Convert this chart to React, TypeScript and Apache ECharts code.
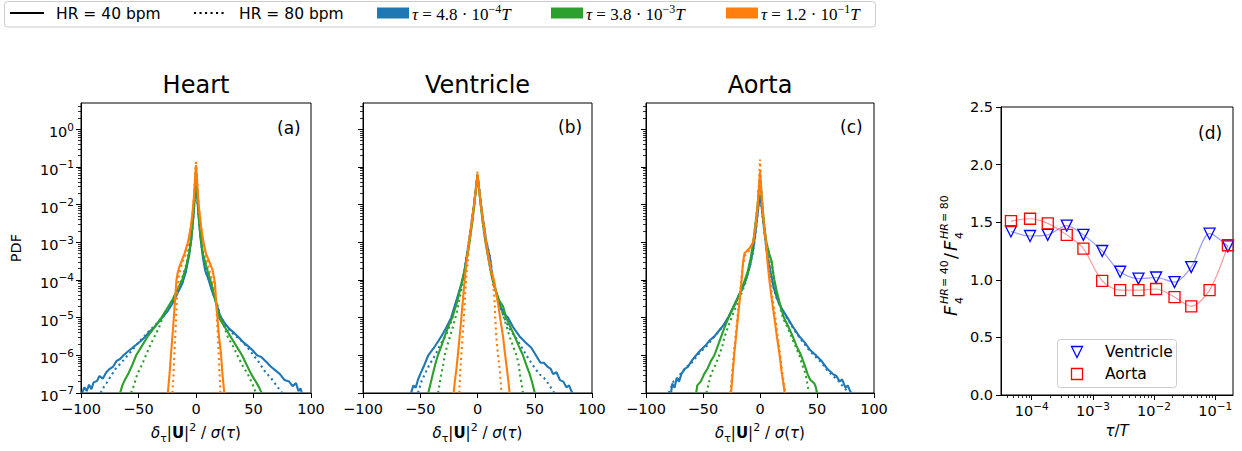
import React, { useEffect, useRef } from 'react';
import * as echarts from 'echarts';

// ---------------- texts ----------------
const panelTitles = ['Heart', 'Ventricle', 'Aorta'];
const panelTags = ['(a)', '(b)', '(c)', '(d)'];
const hrLabels = ['HR = 40 bpm', 'HR = 80 bpm'];
const tauMantissa = ['4.8', '3.8', '1.2'];
const tauExponent = ['\u22124', '\u22123', '\u22121'];
const ratioNames = ['Ventricle', 'Aorta'];

// ---------------- tick values ----------------
const pdfMajorTicks = [1e-7, 1e-6, 1e-5, 1e-4, 1e-3, 1e-2, 1e-1, 1];
const tauMajorTicks = [1e-4, 1e-3, 1e-2, 1e-1];

// ---------------- PDF curves: [x, log10(PDF)] ----------------
// Heart
const heartB40 = [[-99,-7.0],[-97,-6.85],[-95,-6.95],[-93,-6.78],[-91,-6.9],[-89,-6.72],[-86,-6.68],[-84,-6.55],[-81,-6.62],[-78,-6.45],[-75,-6.36],[-72,-6.3],[-69,-6.15],[-66,-6.1],[-63,-6.0],[-60,-5.92],[-56,-5.82],[-52,-5.72],[-48,-5.62],[-44,-5.5],[-40,-5.36],[-36,-5.25],[-32,-5.1],[-28,-4.95],[-24,-4.8],[-20,-4.6],[-16,-4.35],[-12,-4.1],[-9,-3.8],[-6,-3.35],[-4,-2.9],[-2.5,-2.4],[-1.5,-2.0],[-0.7,-1.6],[0,-1.25],[0.7,-1.6],[1.5,-2.0],[2.5,-2.4],[4,-2.9],[6,-3.4],[8,-3.75],[11,-4.0],[14,-4.3],[17,-4.55],[21,-4.95],[25,-5.15],[29,-5.3],[33,-5.4],[37,-5.52],[41,-5.65],[45,-5.75],[49,-5.86],[53,-6.0],[57,-6.05],[61,-6.17],[65,-6.3],[69,-6.4],[73,-6.5],[77,-6.66],[81,-6.7],[84,-6.82],[87,-6.74],[89,-6.95],[91,-6.88],[92,-7.0]];
const heartB80 = [[-83,-7.0],[-81,-6.88],[-78,-6.75],[-74,-6.55],[-70,-6.36],[-65,-6.2],[-60,-6.02],[-55,-5.85],[-50,-5.66],[-45,-5.5],[-40,-5.33],[-36,-5.22],[-32,-5.08],[-28,-4.94],[-24,-4.78],[-20,-4.58],[-16,-4.34],[-12,-4.08],[-9,-3.78],[-6,-3.33],[-4,-2.88],[-2.5,-2.38],[-1.5,-1.98],[-0.7,-1.58],[0,-1.2],[0.7,-1.58],[1.5,-1.98],[2.5,-2.38],[4,-2.88],[6,-3.38],[8,-3.72],[11,-3.98],[14,-4.28],[17,-4.55],[21,-4.95],[25,-5.17],[29,-5.33],[33,-5.45],[37,-5.55],[41,-5.66],[45,-5.8],[50,-6.0],[55,-6.2],[60,-6.43],[65,-6.6],[70,-6.8],[73,-6.93],[75,-7.0]];
const heartG40 = [[-66,-7.0],[-64,-6.8],[-62,-6.66],[-59,-6.5],[-56,-6.3],[-52,-6.0],[-47,-5.75],[-42,-5.5],[-36,-5.25],[-30,-5.0],[-25,-4.75],[-20,-4.5],[-16,-4.25],[-12,-4.0],[-9,-3.7],[-6,-3.3],[-4,-2.85],[-2.5,-2.35],[-1.5,-1.9],[-0.7,-1.45],[0,-1.1],[0.7,-1.45],[1.5,-1.9],[2.5,-2.35],[4,-2.85],[6,-3.3],[9,-3.65],[12,-3.95],[15,-4.3],[18,-4.7],[20,-5.0],[25,-5.25],[30,-5.5],[35,-5.75],[40,-6.0],[44,-6.25],[48,-6.5],[52,-6.7],[55,-6.86],[57,-7.0]];
const heartG80 = [[-56.5,-7.0],[-54,-6.8],[-51,-6.5],[-47,-6.25],[-43.5,-6.0],[-40,-5.75],[-36,-5.5],[-32,-5.25],[-29,-5.0],[-24,-4.75],[-20,-4.5],[-16,-4.25],[-12,-3.95],[-9,-3.65],[-6,-3.25],[-4,-2.8],[-2.5,-2.3],[-1.5,-1.85],[-0.7,-1.4],[0,-1.05],[0.7,-1.4],[1.5,-1.85],[2.5,-2.3],[4,-2.8],[6,-3.25],[9,-3.6],[12,-3.9],[15,-4.25],[18,-4.6],[21,-4.95],[24,-5.2],[27.5,-5.5],[32,-5.75],[36,-6.0],[40,-6.25],[45,-6.5],[49,-6.75],[52,-7.0]];
const heartO40 = [[-24.5,-7.0],[-23,-6.5],[-21.7,-5.95],[-20.5,-5.5],[-19.4,-5.05],[-18,-4.45],[-17,-4.0],[-16,-3.83],[-14.5,-3.65],[-10,-3.3],[-7,-3.0],[-4.5,-2.6],[-3,-2.2],[-1.8,-1.8],[-0.8,-1.3],[0,-0.95],[0.8,-1.3],[1.8,-1.8],[3,-2.2],[4.5,-2.6],[6.5,-3.0],[8.7,-3.3],[12,-3.55],[14.5,-3.74],[16.5,-4.09],[17.4,-4.53],[18.8,-5.06],[20,-5.5],[21.7,-5.95],[23,-6.5],[24.6,-7.0]];
const heartO80 = [[-20.5,-7.0],[-19.5,-6.5],[-18.8,-5.95],[-18,-5.5],[-17.4,-5.06],[-16.5,-4.44],[-15,-3.9],[-12,-3.55],[-8,-3.25],[-5.5,-2.85],[-3.5,-2.4],[-2,-1.9],[-1,-1.4],[0,-0.82],[1,-1.4],[2,-1.9],[3.5,-2.4],[5.5,-2.85],[8,-3.25],[11.6,-3.74],[15,-4.1],[17.4,-4.44],[18.3,-5.06],[19,-5.5],[19.7,-5.95],[20.5,-6.5],[21.2,-7.0]];
// Ventricle
const ventB40 = [[-58,-7.0],[-56,-6.8],[-54,-6.86],[-52,-6.65],[-50,-6.5],[-47,-6.3],[-43,-6.0],[-38,-5.8],[-35,-5.66],[-31.6,-5.5],[-27,-5.25],[-23,-5.0],[-20,-4.7],[-17,-4.4],[-14,-4.1],[-11.5,-3.8],[-9.6,-3.4],[-7.5,-3.0],[-5,-2.45],[-3,-2.0],[-1.5,-1.6],[0,-1.25],[1.5,-1.6],[3,-2.0],[5,-2.45],[7.5,-2.95],[10.8,-3.4],[13,-3.9],[16,-4.3],[20,-4.7],[23,-4.9],[26.6,-5.0],[31,-5.25],[36.8,-5.5],[42,-5.66],[47,-5.8],[51,-6.0],[55,-6.2],[58,-6.2],[61,-6.3],[64,-6.36],[66,-6.5],[69,-6.45],[72,-6.66],[75,-6.7],[77.6,-6.85],[80,-6.8],[82,-6.95],[83,-7.0]];
const ventB80 = [[-52,-7.0],[-49,-6.7],[-46,-6.5],[-42,-6.25],[-37,-6.0],[-33,-5.75],[-28,-5.5],[-24,-5.2],[-21,-4.9],[-17.5,-4.5],[-14,-4.1],[-11.5,-3.78],[-9.6,-3.38],[-7.5,-2.98],[-5,-2.43],[-3,-1.98],[-1.5,-1.58],[0,-1.22],[1.5,-1.58],[3,-1.98],[5,-2.43],[7.5,-2.93],[10.8,-3.38],[13,-3.85],[16,-4.3],[20,-4.75],[24,-5.05],[28,-5.3],[35,-5.6],[42.7,-6.0],[48,-6.25],[54,-6.5],[58,-6.6],[62,-6.76],[65,-6.9],[67,-7.0]];
const ventG40 = [[-43,-7.0],[-41,-6.75],[-39,-6.5],[-37,-6.25],[-34.6,-6.0],[-31.5,-5.75],[-28.7,-5.5],[-25,-5.2],[-22,-5.0],[-18,-4.6],[-14,-4.1],[-11,-3.7],[-8.5,-3.3],[-6.5,-2.9],[-4.5,-2.45],[-2.8,-2.0],[-1.4,-1.6],[0,-1.2],[1.4,-1.6],[2.8,-2.0],[4.5,-2.45],[6.5,-2.9],[9,-3.35],[12,-3.85],[15,-4.2],[19,-4.55],[22.3,-4.7],[25,-5.0],[28.7,-5.25],[32.5,-5.5],[36,-5.75],[39.7,-6.0],[42.5,-6.25],[45.6,-6.5],[48,-6.75],[50,-7.0]];
const ventG80 = [[-34.5,-7.0],[-33,-6.75],[-31.6,-6.5],[-30,-6.25],[-28.7,-6.0],[-26.5,-5.75],[-24,-5.5],[-21,-5.2],[-18,-4.85],[-15,-4.4],[-12,-3.95],[-9.5,-3.45],[-7,-2.95],[-4.5,-2.43],[-2.8,-1.98],[-1.4,-1.58],[0,-1.18],[1.4,-1.58],[2.8,-1.98],[4.5,-2.43],[7,-2.95],[9.5,-3.4],[12,-3.8],[15,-4.2],[19,-4.6],[23,-5.0],[26,-5.3],[28,-5.5],[31,-5.75],[34,-6.0],[36,-6.25],[37,-6.5],[38.5,-6.75],[39.7,-7.0]];
const ventO40 = [[-20.8,-7.0],[-19.8,-6.7],[-18.5,-6.39],[-17,-5.95],[-15.6,-5.5],[-14.2,-5.05],[-13,-4.62],[-11.2,-4.0],[-9.5,-3.5],[-7.5,-3.0],[-5,-2.45],[-3,-2.0],[-1.5,-1.6],[0,-1.2],[1.5,-1.6],[3,-2.0],[5,-2.45],[7.5,-3.0],[10,-3.45],[12,-3.75],[14.4,-4.0],[16,-4.3],[17.9,-4.62],[20,-5.05],[22.3,-5.5],[24,-5.95],[25.8,-6.39],[27,-6.7],[28,-7.0]];
const ventO80 = [[-16,-7.0],[-15.5,-6.7],[-15,-6.39],[-14,-5.95],[-13,-5.5],[-12,-5.05],[-11.2,-4.62],[-10,-4.0],[-8.5,-3.5],[-7,-3.0],[-4.7,-2.45],[-2.8,-2.0],[-1.3,-1.6],[0,-1.12],[1.3,-1.6],[2.8,-2.0],[4.7,-2.45],[7,-3.0],[9.5,-3.45],[12,-3.85],[14,-4.25],[15,-4.62],[15.6,-5.05],[16.4,-5.5],[17.8,-5.95],[19.4,-6.39],[20.2,-6.7],[21,-7.0]];
// Aorta
const aortB40 = [[-78,-7.0],[-77,-6.75],[-75,-6.86],[-73,-6.6],[-71,-6.7],[-69,-6.5],[-66,-6.36],[-63,-6.3],[-60,-6.15],[-56,-6.0],[-52,-5.86],[-48,-5.75],[-44,-5.6],[-40,-5.5],[-36,-5.35],[-32,-5.2],[-28,-5.0],[-24,-4.75],[-20,-4.5],[-16,-4.25],[-12,-3.95],[-9,-3.65],[-6,-3.2],[-4,-2.75],[-2.5,-2.35],[-1.2,-2.0],[0,-1.75],[1.2,-2.0],[2.5,-2.35],[4,-2.75],[6,-3.25],[9,-3.75],[12,-4.2],[15,-4.5],[19,-4.75],[24,-5.0],[29,-5.25],[34.5,-5.5],[39,-5.65],[44,-5.86],[49,-6.0],[54,-6.15],[59,-6.36],[64,-6.5],[67,-6.55],[70,-6.7],[72,-6.64],[75,-6.86],[77,-6.8],[79,-6.95],[80,-7.0]];
const aortB80 = [[-80,-7.0],[-78,-6.86],[-76,-6.7],[-73,-6.66],[-70,-6.5],[-67,-6.4],[-64,-6.3],[-60,-6.2],[-56,-6.05],[-52,-5.9],[-48,-5.8],[-44,-5.65],[-40,-5.5],[-36,-5.36],[-32,-5.2],[-28,-5.02],[-24,-4.78],[-20,-4.52],[-16,-4.27],[-12,-3.97],[-9,-3.66],[-6,-3.22],[-4,-2.77],[-2.5,-2.37],[-1.2,-2.0],[0,-1.8],[1.2,-2.0],[2.5,-2.37],[4,-2.77],[6,-3.27],[9,-3.77],[12,-4.22],[15,-4.52],[19,-4.78],[24,-5.03],[29,-5.28],[34.5,-5.52],[39,-5.7],[44,-5.9],[49,-6.05],[54,-6.2],[59,-6.4],[64,-6.55],[68,-6.65],[72,-6.8],[75,-6.9],[78,-7.0]];
const aortG40 = [[-56,-7.0],[-55,-6.8],[-52,-6.7],[-49,-6.5],[-46,-6.35],[-43,-6.15],[-40,-6.0],[-37,-5.75],[-34,-5.5],[-31,-5.25],[-27.5,-5.0],[-23,-4.7],[-19,-4.45],[-15,-4.15],[-11,-3.8],[-8,-3.4],[-5.5,-2.9],[-3.5,-2.4],[-2,-2.0],[-1,-1.6],[0,-1.3],[1,-1.6],[2,-2.0],[3.5,-2.5],[5.5,-3.0],[8,-3.3],[10.2,-3.5],[11.5,-3.8],[12.6,-4.0],[15,-4.35],[18,-4.7],[21,-5.0],[25,-5.25],[28.7,-5.5],[32,-5.75],[36,-6.0],[39,-6.25],[41.8,-6.5],[44,-6.65],[47.7,-6.75],[49,-6.85],[50,-7.0]];
const aortG80 = [[-47,-7.0],[-45,-6.75],[-43,-6.5],[-39,-6.25],[-35.7,-6.0],[-33,-5.75],[-31,-5.5],[-28,-5.25],[-25,-5.0],[-21,-4.7],[-17,-4.42],[-13,-4.1],[-10,-3.75],[-7.5,-3.35],[-5.5,-2.9],[-3.5,-2.4],[-2,-2.0],[-1,-1.6],[0,-1.35],[1,-1.6],[2,-2.0],[3.5,-2.5],[5.5,-3.0],[8,-3.3],[10.2,-3.55],[12,-3.9],[14,-4.25],[17,-4.65],[20,-5.0],[24,-5.25],[27.5,-5.5],[31,-5.75],[34.5,-6.0],[37,-6.25],[40,-6.5],[41.5,-6.75],[43,-7.0]];
const aortO40 = [[-25.4,-7.0],[-24,-6.5],[-22.5,-5.95],[-21,-5.5],[-19.6,-5.06],[-18,-4.6],[-16.7,-4.18],[-15.5,-3.8],[-15,-3.56],[-13.7,-3.3],[-9,-3.15],[-6,-3.0],[-4,-2.6],[-2.5,-2.2],[-1.2,-1.7],[0,-1.12],[1.2,-1.7],[2.5,-2.2],[4,-2.7],[5.3,-3.0],[6.5,-3.5],[8.2,-4.0],[10.3,-4.5],[12.6,-5.0],[14.8,-5.5],[17,-5.95],[19,-6.45],[20.5,-6.75],[21.6,-7.0]];
const aortO80 = [[-26,-7.0],[-24.5,-6.5],[-23,-5.95],[-21.5,-5.5],[-20,-5.06],[-18.5,-4.6],[-17,-4.18],[-15.5,-3.7],[-13,-3.35],[-9,-3.2],[-6,-3.0],[-4,-2.6],[-2.5,-2.2],[-1.2,-1.6],[0,-0.8],[1.2,-1.6],[2.5,-2.2],[4,-2.7],[5.6,-3.0],[7,-3.5],[9,-4.0],[11,-4.5],[13.5,-5.0],[15.5,-5.5],[17.5,-5.95],[19.5,-6.45],[21,-6.75],[22.3,-7.0]];

// ---------------- flatness ratio (panel d) ----------------
const tauOverT = [4.58e-5, 9.4e-5, 1.83e-4, 3.74e-4, 7.0e-4, 1.42e-3, 2.79e-3, 5.56e-3, 1.08e-2, 2.16e-2, 4.05e-2, 8.07e-2, 1.61e-1];
const ventricleRatio = [1.42, 1.38, 1.39, 1.47, 1.39, 1.25, 1.07, 1.01, 1.02, 0.98, 1.11, 1.40, 1.29];
const aortaRatio = [1.51, 1.53, 1.49, 1.39, 1.27, 0.99, 0.91, 0.91, 0.92, 0.85, 0.77, 0.91, 1.30];

const COLORS = ['#1f77b4', '#2ca02c', '#ff7f0e'];
const FONT = 'DejaVu Sans';
const SERIF = 'Liberation Serif';

const panels = [
  [[heartB40, heartB80], [heartG40, heartG80], [heartO40, heartO80]],
  [[ventB40, ventB80], [ventG40, ventG80], [ventO40, ventO80]],
  [[aortB40, aortB80], [aortG40, aortG80], [aortO40, aortO80]],
];

const pdfGrids = [
  { left: 81, width: 230 },
  { left: 363, width: 229 },
  { left: 646, width: 228 },
];

const PDF_MIN = 0.995e-7;
const PDF_MAX = 5;
const TAU_MIN = 3.15e-5;
const TAU_MAX = 0.195;

function minorLogTicks(lo: number, hi: number): number[] {
  const out: number[] = [];
  for (let e = -8; e <= 1; e++) {
    for (let k = 2; k <= 9; k++) {
      const v = k * Math.pow(10, e);
      if (v > lo && v < hi) out.push(v);
    }
  }
  return out;
}

const supMinus = (e: number) => (e < 0 ? '\u2212' + -e : String(e));
const powLabel = (v: number) => `{b|10}{s|${supMinus(Math.round(Math.log10(v)))}}`;
const powRich = {
  b: { fontSize: 14.5, fontFamily: FONT, color: '#000', lineHeight: 16, padding: [6, 0, 0, 0] },
  s: { fontSize: 10.5, fontFamily: FONT, color: '#000', lineHeight: 14, verticalAlign: 'top' },
};

const xNameRich = {
  i: { fontSize: 15, fontFamily: FONT, fontStyle: 'italic', color: '#000', lineHeight: 22 },
  n: { fontSize: 15, fontFamily: FONT, color: '#000', lineHeight: 22 },
  bd: { fontSize: 15, fontFamily: FONT, fontWeight: 'bold', color: '#000', lineHeight: 22 },
  sub: { fontSize: 11, fontFamily: FONT, color: '#000', lineHeight: 12, verticalAlign: 'bottom' },
  sup: { fontSize: 11, fontFamily: FONT, color: '#000', lineHeight: 12, verticalAlign: 'top' },
};
const xNameText = '{i|δ}{sub|τ}{n||}{bd|U}{n||}{sup|2}{n| / }{i|σ}{n|(}{i|τ}{n|)}';

function buildOption() {
  const grid: any[] = [];
  const xAxis: any[] = [];
  const yAxis: any[] = [];
  const series: any[] = [];
  const pdfMinor = minorLogTicks(PDF_MIN, PDF_MAX);
  const tauMinor = minorLogTicks(TAU_MIN, TAU_MAX);

  pdfGrids.forEach((g, i) => {
    grid.push({ left: g.left, width: g.width, top: 103, height: 290, show: true, borderColor: '#000', borderWidth: 1, backgroundColor: 'transparent' });
    xAxis.push({
      type: 'value', gridIndex: i, min: -100, max: 100, interval: 50,
      axisLine: { show: true, onZero: false, lineStyle: { color: '#000', width: 1 } },
      axisTick: { show: true, length: 5, lineStyle: { color: '#000', width: 1 } },
      axisLabel: { color: '#000', fontSize: 14.5, fontFamily: FONT, margin: 8, formatter: (v: number) => (v < 0 ? '\u2212' + Math.abs(v) : String(v)) },
      splitLine: { show: false },
      name: xNameText, nameLocation: 'middle', nameGap: 29,
      nameTextStyle: { rich: xNameRich },
    });
    yAxis.push({
      type: 'log', logBase: 10, gridIndex: i, min: PDF_MIN, max: PDF_MAX, position: 'left',
      axisLine: { show: true, onZero: false, lineStyle: { color: '#000', width: 1 } },
      axisTick: { show: true, length: 5, lineStyle: { color: '#000', width: 1 }, customValues: pdfMajorTicks },
      axisLabel: { show: i === 0, customValues: pdfMajorTicks, formatter: powLabel, rich: powRich, margin: 7 },
      splitLine: { show: false }, minorTick: { show: false },
      name: i === 0 ? 'PDF' : '', nameLocation: 'middle', nameGap: 58,
      nameTextStyle: { fontSize: 14.5, fontFamily: FONT, color: '#000' },
    });
    yAxis.push({
      type: 'log', logBase: 10, gridIndex: i, min: PDF_MIN, max: PDF_MAX, position: 'left',
      axisLine: { show: false, onZero: false },
      axisTick: { show: true, length: 3, lineStyle: { color: '#000', width: 0.8 }, customValues: pdfMinor },
      axisLabel: { show: false }, splitLine: { show: false },
    });
    panels[i].forEach((pair, c) => {
      pair.forEach((curve, d) => {
        series.push({
          type: 'line', xAxisIndex: i, yAxisIndex: i * 2, silent: true,
          showSymbol: false, symbol: 'none', clip: true,
          lineStyle: { color: COLORS[c], width: 2.1, type: d === 0 ? 'solid' : [2.1, 3.4] },
          data: curve.map(([x, e]) => [x, Math.pow(10, e)]),
          z: 2 + c,
        });
      });
    });
  });

  // panel d
  grid.push({ left: 1001, width: 232, top: 107, height: 288, show: true, borderColor: '#000', borderWidth: 1, backgroundColor: 'transparent' });
  xAxis.push({
    type: 'log', logBase: 10, gridIndex: 3, min: TAU_MIN, max: TAU_MAX, position: 'bottom',
    axisLine: { show: true, onZero: false, lineStyle: { color: '#000', width: 1 } },
    axisTick: { show: true, length: 5, lineStyle: { color: '#000', width: 1 }, customValues: tauMajorTicks },
    axisLabel: { customValues: tauMajorTicks, formatter: powLabel, rich: powRich, margin: 5 },
    splitLine: { show: false }, minorTick: { show: false },
    name: '{i|τ}{n|/}{i|T}', nameLocation: 'middle', nameGap: 22,
    nameTextStyle: { rich: xNameRich },
  });
  xAxis.push({
    type: 'log', logBase: 10, gridIndex: 3, min: TAU_MIN, max: TAU_MAX, position: 'bottom',
    axisLine: { show: false, onZero: false },
    axisTick: { show: true, length: 3, lineStyle: { color: '#000', width: 0.8 }, customValues: tauMinor },
    axisLabel: { show: false }, splitLine: { show: false },
  });
  yAxis.push({
    type: 'value', gridIndex: 3, min: 0, max: 2.5, interval: 0.5, position: 'left',
    axisLine: { show: true, onZero: false, lineStyle: { color: '#000', width: 1 } },
    axisTick: { show: true, length: 5, lineStyle: { color: '#000', width: 1 } },
    axisLabel: { color: '#000', fontSize: 14.5, fontFamily: FONT, margin: 8, formatter: (v: number) => v.toFixed(1) },
    splitLine: { show: false },
  });
  const dY = yAxis.length - 1;
  series.push({
    name: ratioNames[0], type: 'line', xAxisIndex: 3, yAxisIndex: dY, silent: true, smooth: 0.3,
    symbol: 'triangle', symbolRotate: 180, symbolSize: 11, showSymbol: true,
    itemStyle: { color: 'rgba(0,0,0,0)', borderColor: '#0000ff', borderWidth: 1.3 },
    lineStyle: { color: 'rgba(0,0,255,0.4)', width: 1.2 },
    data: tauOverT.map((t, k) => [t, ventricleRatio[k]]),
  });
  series.push({
    name: ratioNames[1], type: 'line', xAxisIndex: 3, yAxisIndex: dY, silent: true, smooth: 0.3,
    symbol: 'rect', symbolSize: 11, showSymbol: true,
    itemStyle: { color: 'rgba(0,0,0,0)', borderColor: '#ff0000', borderWidth: 1.3 },
    lineStyle: { color: 'rgba(255,0,0,0.4)', width: 1.2 },
    data: tauOverT.map((t, k) => [t, aortaRatio[k]]),
  });

  // ---------------- graphics ----------------
  const g: any[] = [];
  const txt = (x: number, y: number, text: string, size: number, align = 'left', extra: any = {}) => ({
    type: 'text', x, y, silent: true,
    style: { text, font: `${size}px "${FONT}"`, fill: '#000', align, verticalAlign: 'middle', ...extra },
  });
  // top legend
  g.push({ type: 'rect', silent: true, shape: { x: 4.5, y: 1.5, width: 871, height: 25.5, r: 3 }, style: { fill: '#fff', stroke: '#cccccc', lineWidth: 1 } });
  g.push({ type: 'line', silent: true, shape: { x1: 10, y1: 13, x2: 44, y2: 13 }, style: { stroke: '#000', lineWidth: 2 } });
  g.push(txt(56, 14, hrLabels[0], 15.5));
  g.push({ type: 'line', silent: true, shape: { x1: 194, y1: 13, x2: 224, y2: 13 }, style: { stroke: '#000', lineWidth: 2, lineDash: [2.1, 3.4] } });
  g.push(txt(239, 14, hrLabels[1], 15.5));
  const patchX = [377, 551, 726];
  const tauRich = {
    i: { fontFamily: SERIF, fontSize: 17, fontStyle: 'italic', fill: '#000', lineHeight: 22 },
    n: { fontFamily: SERIF, fontSize: 17, fill: '#000', lineHeight: 22 },
    s: { fontFamily: SERIF, fontSize: 12, fill: '#000', lineHeight: 13, verticalAlign: 'top' },
  };
  patchX.forEach((px, c) => {
    g.push({ type: 'rect', silent: true, shape: { x: px, y: 7.5, width: 32, height: 11 }, style: { fill: COLORS[c] } });
    g.push({
      type: 'text', x: px + 35, y: 14, silent: true,
      style: { text: `{i|τ}{n| = ${tauMantissa[c]} · 10}{s|${tauExponent[c]}}{i|T}`, rich: tauRich, align: 'left', verticalAlign: 'middle' },
    });
  });
  // titles and panel tags
  const centers = [196, 477.5, 760];
  panelTitles.forEach((t, i) => g.push(txt(centers[i], 85, t, 24, 'center')));
  const tagPos = [[277, 128], [558, 127], [840, 127], [1198, 133]];
  panelTags.forEach((t, i) => g.push(txt(tagPos[i][0], tagPos[i][1], t, 17)));
  // panel d legend
  g.push({ type: 'rect', silent: true, shape: { x: 1057.5, y: 339.5, width: 119, height: 48, r: 3 }, style: { fill: '#fff', stroke: '#cccccc', lineWidth: 1 }, z: 10 });
  g.push({ type: 'polygon', silent: true, shape: { points: [[1071.5, 346.5], [1082.5, 346.5], [1077, 357.5]] }, style: { fill: 'none', stroke: '#0000ff', lineWidth: 1.3 }, z: 11 });
  g.push({ type: 'rect', silent: true, shape: { x: 1071.5, y: 368.5, width: 11, height: 11 }, style: { fill: 'none', stroke: '#ff0000', lineWidth: 1.3 }, z: 11 });
  g.push({ ...txt(1105, 352, ratioNames[0], 15.5), z: 11 });
  g.push({ ...txt(1105, 374, ratioNames[1], 15.5), z: 11 });
  // panel d y label (rotated, stacked sub/superscripts)
  const it = (x: number, y: number, text: string, size: number) => ({
    type: 'text', x, y, silent: true,
    style: { text, font: `italic ${size}px "${FONT}"`, fill: '#000', align: 'left', verticalAlign: 'middle' },
  });
  const up = (x: number, y: number, text: string, size: number) => ({
    type: 'text', x, y, silent: true,
    style: { text, font: `${size}px "${FONT}"`, fill: '#000', align: 'left', verticalAlign: 'middle' },
  });
  g.push({
    type: 'group', x: 950, y: 252, rotation: Math.PI / 2, silent: true,
    children: [
      it(-64, 0, 'F', 18),
      it(-52, -6, 'HR', 11), up(-35, -6, '= 40', 11),
      up(-52, 9, '4', 11),
      up(-7, 0, '/', 18),
      it(1, 0, 'F', 18),
      it(13, -6, 'HR', 11), up(30, -6, '= 80', 11),
      up(13, 9, '4', 11),
    ],
  });

  return {
    animation: false,
    backgroundColor: '#fff',
    textStyle: { fontFamily: FONT },
    grid, xAxis, yAxis, series,
    graphic: g,
  };
}

export default function App() {
  const ref = useRef<HTMLDivElement>(null);
  useEffect(() => {
    document.body.style.margin = '0';
    if (!ref.current) return;
    const chart = echarts.init(ref.current, undefined, { renderer: 'svg' });
    chart.setOption(buildOption() as any);
    return () => chart.dispose();
  }, []);
  return <div ref={ref} style={{ width: 1242, height: 451 }} />;
}
